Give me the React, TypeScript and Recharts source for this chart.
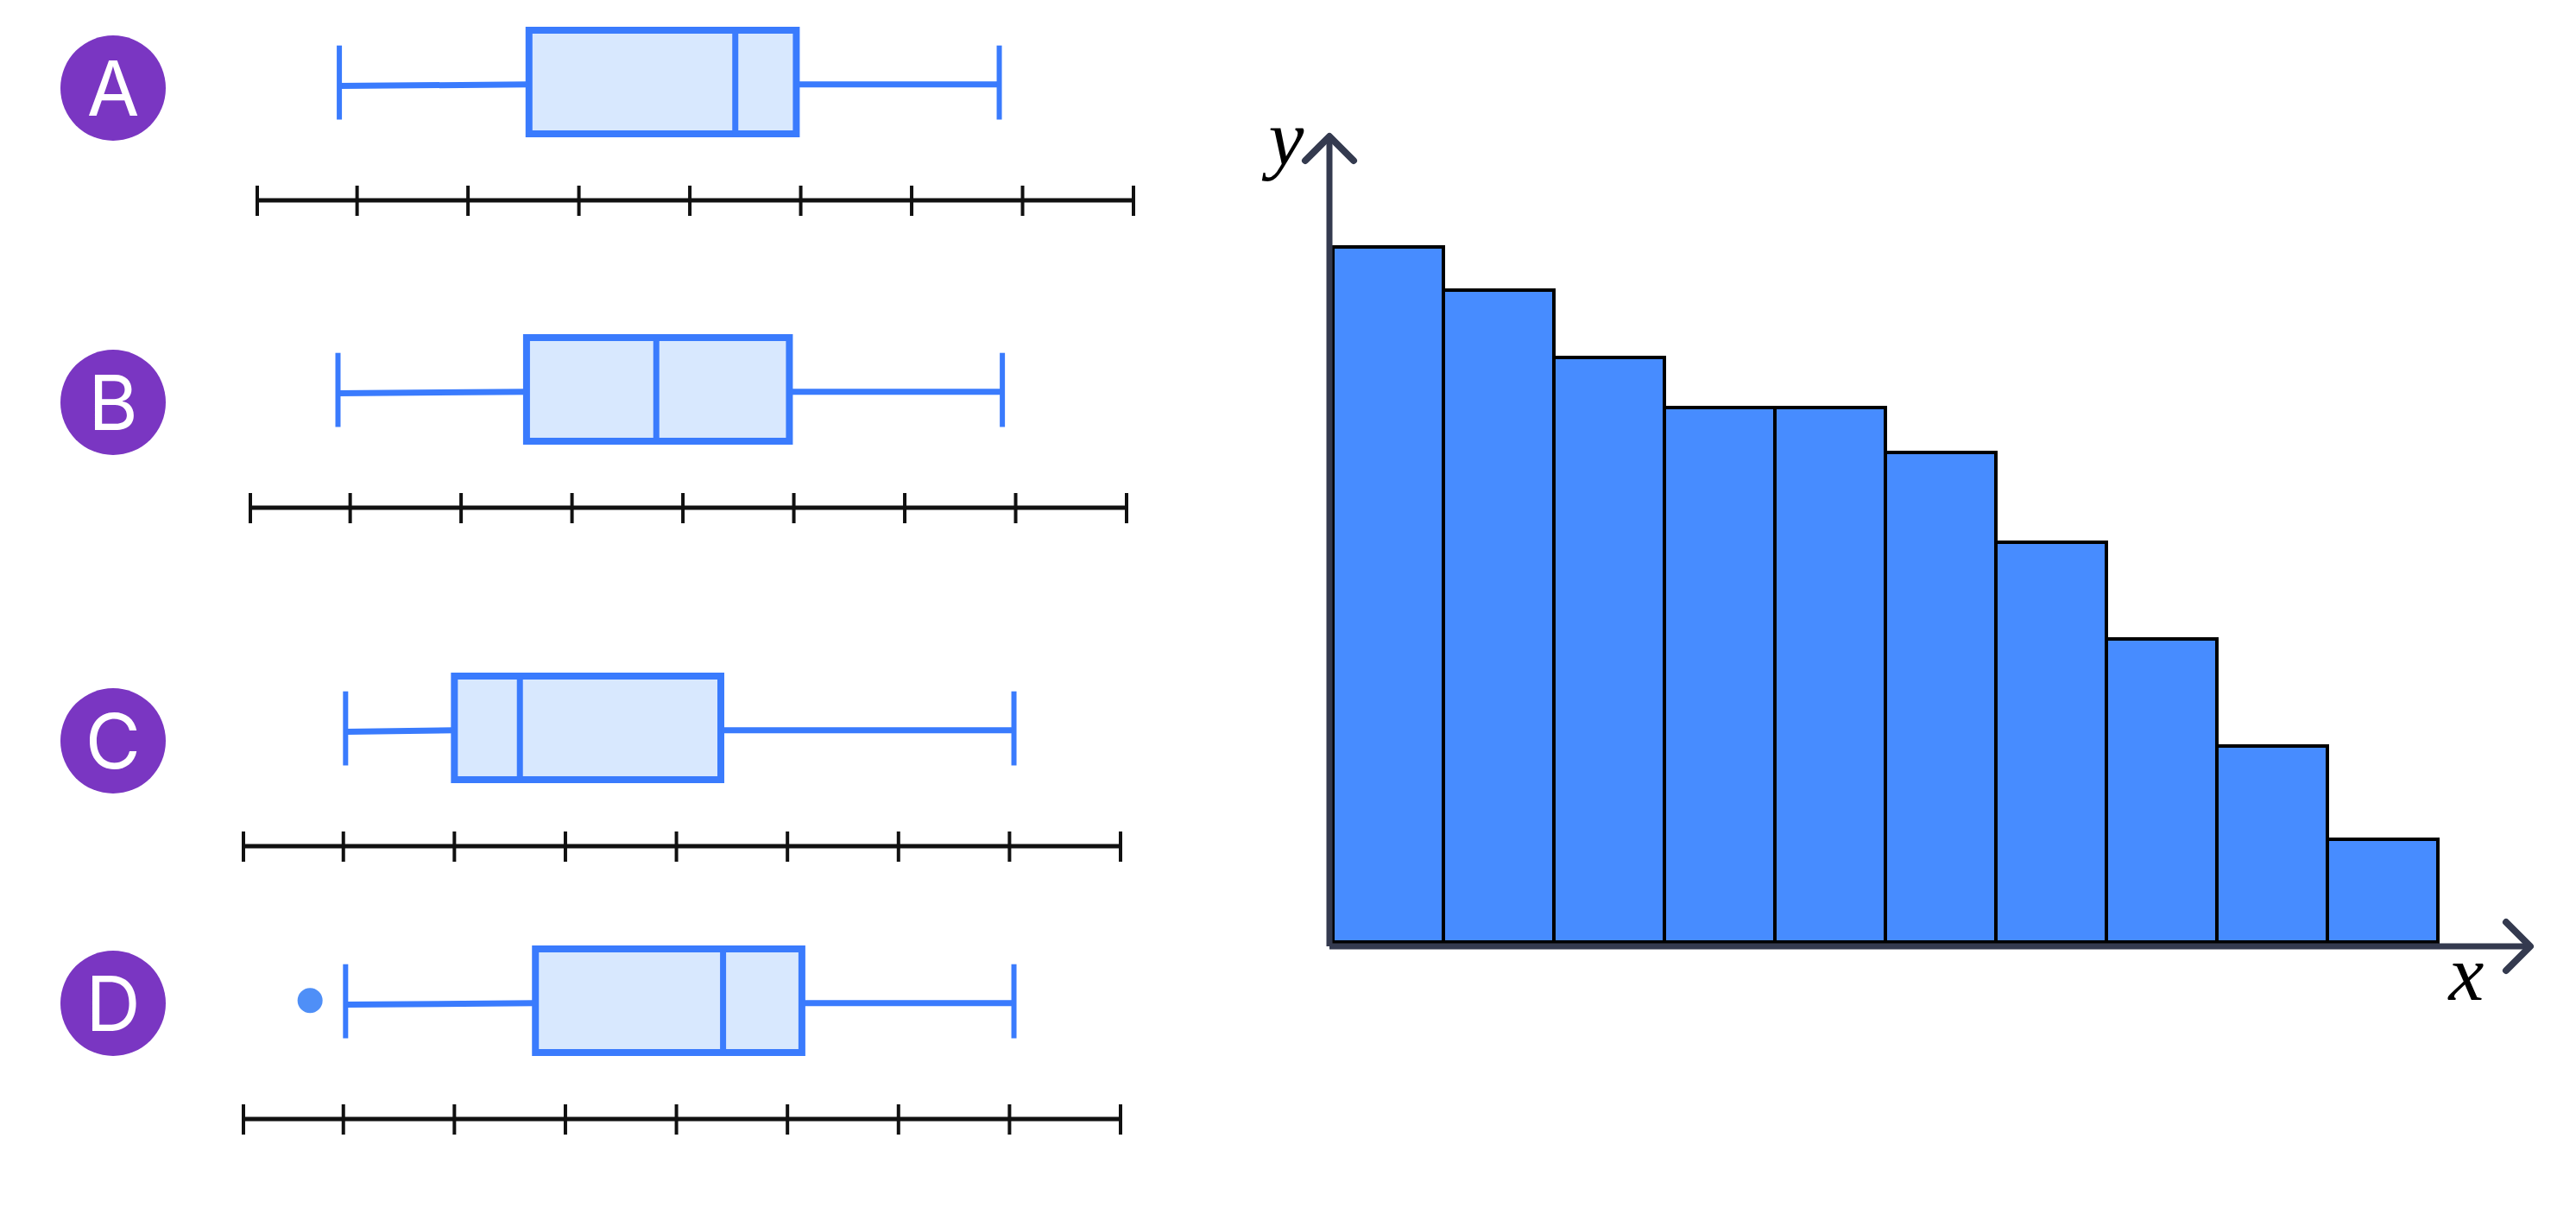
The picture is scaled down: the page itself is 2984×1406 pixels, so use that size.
import React from "react";
import {
  Bar,
  BarChart,
  ComposedChart,
  ReferenceArea,
  ReferenceLine,
  Scatter,
  XAxis,
  YAxis,
} from "recharts";

// box plots A-D (tick 1 = 1, tick 8 = 8)
const plotLabels = ["A", "B", "C", "D"];
const whiskerLow = [0.84, 0.89, 1.02, 1.02];
const quartile1 = [2.55, 2.59, 2.0, 2.73];
const medians = [4.41, 3.76, 2.59, 4.42];
const quartile3 = [4.96, 4.96, 4.4, 5.13];
const whiskerHigh = [6.79, 6.88, 7.04, 7.04];
const outliers: number[][] = [[], [], [], [0.7]];
const numberLineTicks = [0.1, 1, 2, 3, 4, 5, 6, 7, 8];

// histogram
const binLabels = ["1", "2", "3", "4", "5", "6", "7", "8", "9", "10"];
const binHeights = [8.05, 7.55, 6.77, 6.19, 6.19, 5.67, 4.63, 3.51, 2.27, 1.19];

const BLUE = "#3a7bfd";
const BOX_FILL = "#d8e8fe";
const PURPLE = "#7a36c2";
const AXIS = "#343a4f";

// where each row sits on the page
const rows = [
  { axisY: 232, x0: 298, x1: 1313, badgeY: 102 },
  { axisY: 588, x0: 290, x1: 1305, badgeY: 466 },
  { axisY: 980, x0: 282, x1: 1298, badgeY: 858 },
  { axisY: 1296, x0: 282, x1: 1298, badgeY: 1162 },
];

const ROW_W = 1500;
const ROW_H = 280;
const BOX_LO = 3.5;
const BOX_HI = 8.95;
const MID = 6.1;
const CAP_LO = 4.25;
const CAP_HI = 8.15;

const NumberLineTick = (props: any) => (
  <line x1={props.x} x2={props.x} y1={props.y - 17} y2={props.y + 18} stroke="#111" strokeWidth={4} />
);

const OutlierDot = (props: any) => <circle cx={props.cx} cy={props.cy - 3} r={14.5} fill="#4f8ff7" />;

function BoxPlotRow({ i }: { i: number }) {
  const r = rows[i];
  const lo = whiskerLow[i];
  const q1 = quartile1[i];
  const med = medians[i];
  const q3 = quartile3[i];
  const hi = whiskerHigh[i];
  return (
    <div style={{ position: "absolute", left: 0, top: r.axisY - 220, width: ROW_W, height: ROW_H }}>
      <ComposedChart
        width={ROW_W}
        height={ROW_H}
        margin={{ top: 0, left: r.x0, right: ROW_W - r.x1, bottom: 20 }}
      >
        <XAxis
          type="number"
          dataKey="v"
          domain={[0.1, 8]}
          ticks={numberLineTicks}
          interval={0}
          allowDataOverflow
          tickLine={false}
          tickSize={0}
          tickMargin={0}
          height={40}
          axisLine={{ stroke: "#111", strokeWidth: 5 }}
          tick={NumberLineTick}
        />
        <YAxis type="number" dataKey="y" domain={[0, 10]} hide allowDataOverflow />
        <ReferenceLine segment={[{ x: lo, y: MID - 0.08 }, { x: q1, y: MID }]} stroke={BLUE} strokeWidth={7} />
        <ReferenceLine segment={[{ x: q3, y: MID }, { x: hi, y: MID }]} stroke={BLUE} strokeWidth={7} />
        <ReferenceLine segment={[{ x: lo, y: CAP_LO }, { x: lo, y: CAP_HI }]} stroke={BLUE} strokeWidth={6} />
        <ReferenceLine segment={[{ x: hi, y: CAP_LO }, { x: hi, y: CAP_HI }]} stroke={BLUE} strokeWidth={6} />
        <ReferenceArea
          x1={q1}
          x2={q3}
          y1={BOX_LO}
          y2={BOX_HI}
          fill={BOX_FILL}
          fillOpacity={1}
          stroke={BLUE}
          strokeWidth={8}
        />
        <ReferenceLine segment={[{ x: med, y: BOX_LO }, { x: med, y: BOX_HI }]} stroke={BLUE} strokeWidth={7} />
        <Scatter
          data={outliers[i].map((v) => ({ v, y: MID }))}
          shape={OutlierDot}
          isAnimationActive={false}
        />
      </ComposedChart>
    </div>
  );
}

function Badge({ label, cy }: { label: string; cy: number }) {
  return (
    <div
      style={{
        position: "absolute",
        left: 131 - 61,
        top: cy - 61,
        width: 122,
        height: 122,
        borderRadius: "50%",
        background: PURPLE,
        color: "#fff",
        display: "flex",
        alignItems: "center",
        justifyContent: "center",
        fontFamily: "Inter",
        fontSize: 88,
        lineHeight: 1,
      }}
    >
      {label}
    </div>
  );
}

const mathLabel: React.CSSProperties = {
  position: "absolute",
  width: 100,
  height: 100,
  display: "flex",
  alignItems: "center",
  justifyContent: "center",
  fontFamily: "'Liberation Serif', serif",
  fontStyle: "italic",
  fontSize: 92,
  lineHeight: 1,
  color: "#000",
};

export default function App() {
  const histData = binLabels.map((bin, i) => ({ bin, count: binHeights[i] }));
  return (
    <div style={{ position: "absolute", left: 0, top: 0, width: 2984, height: 1406, background: "#fff" }}>
      <svg width={0} height={0} style={{ position: "absolute" }}>
        <defs>
          <marker
            id="axisArrow"
            viewBox="-50 -50 60 100"
            refX={0}
            refY={0}
            markerWidth={60}
            markerHeight={100}
            markerUnits="userSpaceOnUse"
            orient="auto-start-reverse"
            overflow="visible"
          >
            <path
              d="M -28 -28 L 0 0 L -28 28"
              fill="none"
              stroke={AXIS}
              strokeWidth={8}
              strokeLinecap="round"
              strokeLinejoin="round"
            />
          </marker>
        </defs>
      </svg>

      {plotLabels.map((label, i) => (
        <Badge key={label} label={label} cy={rows[i].badgeY} />
      ))}
      {plotLabels.map((label, i) => (
        <BoxPlotRow key={label} i={i} />
      ))}

      <div style={{ position: "absolute", left: 1400, top: 100, width: 1584, height: 1100 }}>
        <BarChart
          width={1584}
          height={1100}
          data={histData}
          barCategoryGap={0}
          margin={{ top: 58, left: 100, right: 53, bottom: 103 }}
        >
          <XAxis
            dataKey="bin"
            height={1}
            tick={false}
            tickLine={false}
            padding={{ left: 4, right: 107 }}
            axisLine={{ stroke: AXIS, strokeWidth: 7, markerEnd: "url(#axisArrow)" }}
          />
          <YAxis
            width={40}
            tick={false}
            tickLine={false}
            domain={[0, 9]}
            padding={{ top: 33, bottom: 5 }}
            axisLine={{ stroke: AXIS, strokeWidth: 7, markerStart: "url(#axisArrow)" }}
          />
          <Bar dataKey="count" fill="#478cff" stroke="#000" strokeWidth={4} isAnimationActive={false} />
        </BarChart>
      </div>

      <div style={{ ...mathLabel, left: 1490 - 50, top: 160 - 50 }}>y</div>
      <div style={{ ...mathLabel, left: 2857 - 50, top: 1127 - 50 }}>x</div>
    </div>
  );
}
